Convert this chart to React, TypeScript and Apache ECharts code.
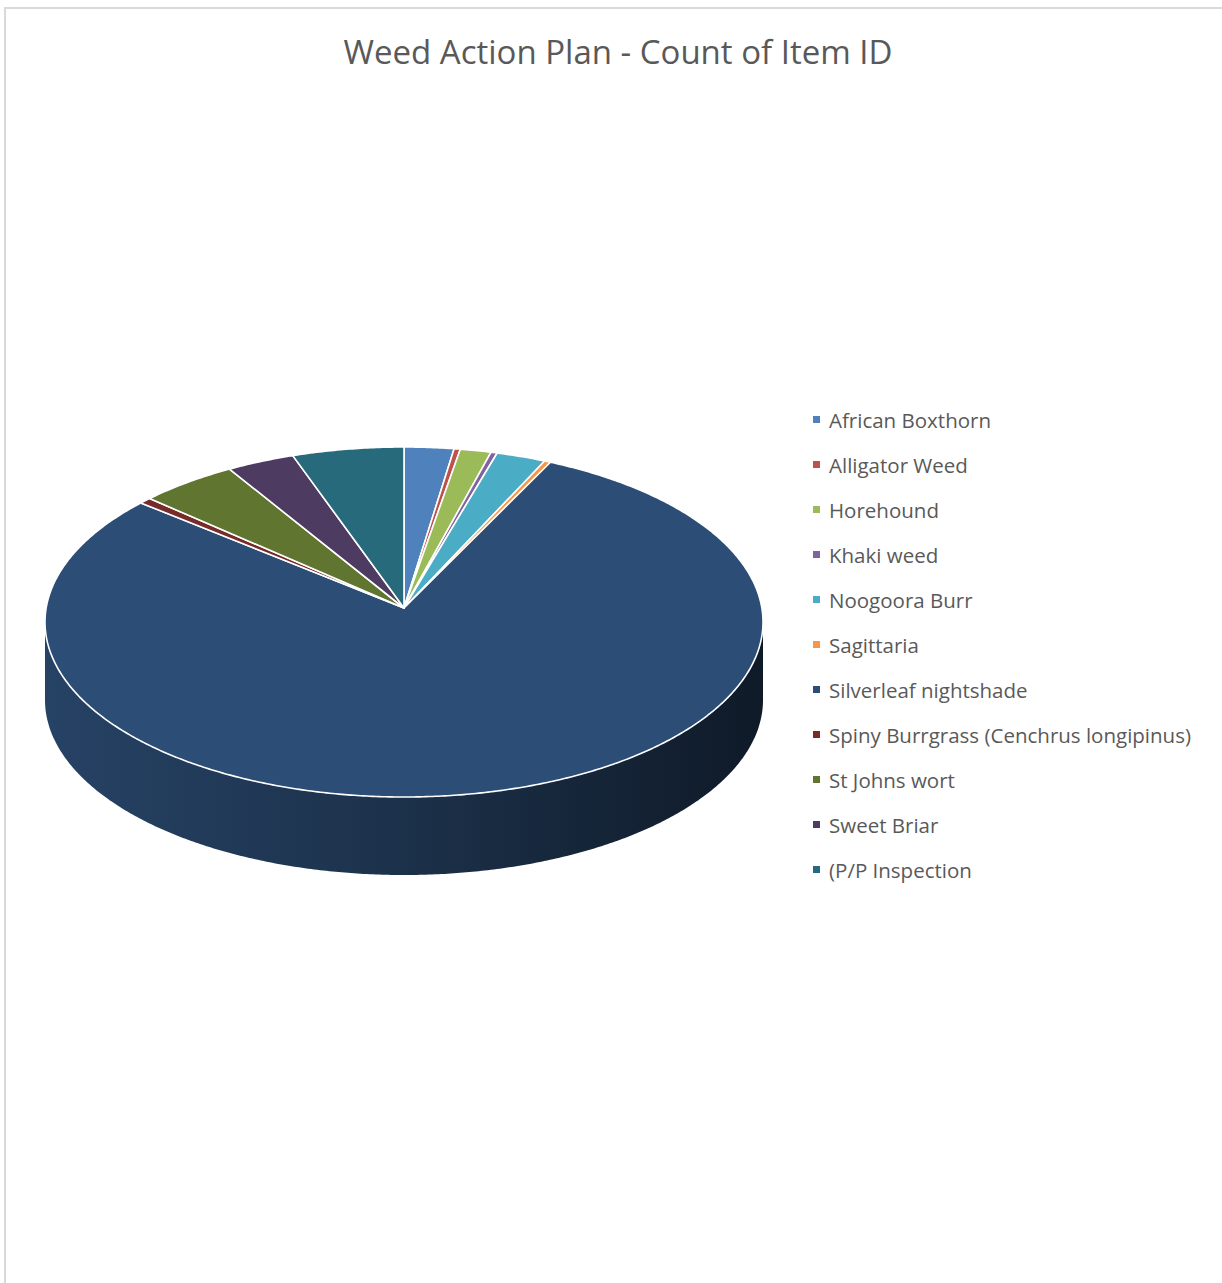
import React, { useEffect, useRef } from "react";
import * as echarts from "echarts";

const chartTitle = "Weed Action Plan - Count of Item ID";
const names = [
  "African Boxthorn",
  "Alligator Weed",
  "Horehound",
  "Khaki weed",
  "Noogoora Burr",
  "Sagittaria",
  "Silverleaf nightshade",
  "Spiny Burrgrass (Cenchrus longipinus)",
  "St Johns wort",
  "Sweet Briar",
  "(P/P Inspection",
];
const values = [8, 1, 5, 1, 8, 1, 288, 2, 16, 11, 18];
const colors = [
  "#4f81bd",
  "#c0504d",
  "#9bbb59",
  "#8064a2",
  "#4bacc6",
  "#f79646",
  "#2c4d75",
  "#772c2a",
  "#5f7530",
  "#4d3b62",
  "#276a7c",
];

// geometry of the tilted pie (pixels)
const CX = 404;
const CY = 622;
const RX = 359;
const RY = 175;
const APEX_Y = 608;
const DEPTH = 78;

function shade(hex: string, f: number) {
  const n = parseInt(hex.slice(1), 16);
  const r = Math.round(((n >> 16) & 255) * f);
  const g = Math.round(((n >> 8) & 255) * f);
  const b = Math.round((n & 255) * f);
  return `rgb(${r},${g},${b})`;
}

function arcPoints(a0: number, a1: number, dy: number) {
  const pts: number[][] = [];
  const steps = Math.max(2, Math.ceil(((a1 - a0) * 180) / Math.PI / 0.5));
  for (let k = 0; k <= steps; k++) {
    const a = a0 + ((a1 - a0) * k) / steps;
    pts.push([CX + RX * Math.sin(a), CY - RY * Math.cos(a) + dy]);
  }
  return pts;
}

export default function App() {
  const ref = useRef<HTMLDivElement>(null);
  useEffect(() => {
    if (!ref.current) return;
    const chart = echarts.init(ref.current, undefined, { renderer: "svg" });
    const total = values.reduce((s, v) => s + v, 0);
    const cum: number[] = [0];
    values.forEach((v, i) => cum.push(cum[i] + v));

    const makeRender = (i: number) => (params: any, api: any) => {
      const v = api.value(0);
      const start = (cum[i] / total) * Math.PI * 2;
      const end = start + (v / total) * Math.PI * 2;
      const children: any[] = [];
      const s0 = Math.max(start, Math.PI / 2);
      const s1 = Math.min(end, (Math.PI * 3) / 2);
      if (s1 > s0) {
        const topEdge = arcPoints(s0, s1, 0);
        const botEdge = arcPoints(s0, s1, DEPTH).reverse();
        children.push({
          type: "polygon",
          z2: 0,
          shape: { points: topEdge.concat(botEdge) },
          style: {
            fill: new echarts.graphic.LinearGradient(
              CX - RX,
              0,
              CX + RX,
              0,
              [
                { offset: 0, color: shade(colors[i], 0.86) },
                { offset: 0.45, color: shade(colors[i], 0.66) },
                { offset: 1, color: shade(colors[i], 0.34) },
              ],
              true
            ),
          },
        });
      }
      children.push({
        type: "polygon",
        z2: 10,
        shape: { points: [[CX, APEX_Y]].concat(arcPoints(start, end, 0)) },
        style: {
          fill: colors[i],
          stroke: "#ffffff",
          lineWidth: 1.6,
          lineJoin: "round",
        },
      });
      return { type: "group", children };
    };

    chart.setOption({
      animation: false,
      backgroundColor: "#ffffff",
      title: {
        text: chartTitle,
        left: 613,
        textAlign: "center",
        top: 30,
        textStyle: {
          fontFamily: "Open Sans",
          fontSize: 33,
          fontWeight: "normal",
          color: "#595959",
        },
      },
      legend: {
        orient: "vertical",
        left: 808,
        top: 404,
        icon: "rect",
        itemWidth: 7,
        itemHeight: 7,
        itemGap: 24,
        data: names,
        textStyle: {
          fontFamily: "Open Sans",
          fontSize: 20.5,
          color: "#595959",
          lineHeight: 20,
          padding: [0, 0, 0, 4],
        },
      },
      graphic: [
        {
          type: "rect",
          silent: true,
          shape: { x: 5, y: 8, width: 1300, height: 1400 },
          style: { fill: "none", stroke: "#d9d9d9", lineWidth: 2 },
        },
      ],
      series: names.map((n, i) => ({
        type: "custom",
        name: n,
        coordinateSystem: "none",
        itemStyle: { color: colors[i] },
        renderItem: makeRender(i),
        data: [values[i]],
      })),
    });
    return () => chart.dispose();
  }, []);
  return (
    <div
      ref={ref}
      style={{ position: "absolute", left: 0, top: 0, width: 1222, height: 1283 }}
    />
  );
}
